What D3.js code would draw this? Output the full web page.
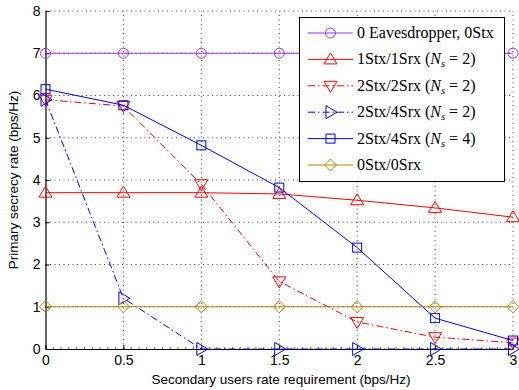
<!DOCTYPE html>
<html><head><meta charset="utf-8">
<script src="https://cdn.jsdelivr.net/npm/d3@7"></script>
<style>body{margin:0;background:#fff}</style>
</head><body><svg id="c" width="519" height="390"></svg>
<script>
const xVals = [0, 0.5, 1, 1.5, 2, 2.5, 3];
const xTicks = [0, 0.5, 1, 1.5, 2, 2.5, 3];
const xTickLabels = ["0", "0.5", "1", "1.5", "2", "2.5", "3"];
const yTicks = [0, 1, 2, 3, 4, 5, 6, 7, 8];
const eaves0 = [7, 7, 7, 7, 7, 7, 7];
const s1r1Ns2 = [3.7, 3.7, 3.7, 3.67, 3.52, 3.34, 3.12];
const s2r2Ns2 = [5.9, 5.75, 3.9, 1.6, 0.64, 0.28, 0.15];
const s2r4Ns2 = [5.9, 1.2, 0, 0, 0, 0, 0];
const s2r4Ns4 = [6.15, 5.77, 4.82, 3.82, 2.4, 0.73, 0.2];
const s0r0 = [1, 1, 1, 1, 1, 1, 1];
const seriesNames = ["0 Eavesdropper, 0Stx", "1Stx/1Srx (Ns = 2)", "2Stx/2Srx (Ns = 2)", "2Stx/4Srx (Ns = 2)", "2Stx/4Srx (Ns = 4)", "0Stx/0Srx"];

const series = [
  {name: seriesNames[0], vals: eaves0, color: "#9933ff", marker: "circle", dash: null, ns: null, pre: "0 Eavesdropper, 0Stx"},
  {name: seriesNames[1], vals: s1r1Ns2, color: "#ff0000", marker: "up", dash: null, ns: "2", pre: "1Stx/1Srx"},
  {name: seriesNames[2], vals: s2r2Ns2, color: "#ff0000", marker: "down", dash: "7,3,1.5,3", ns: "2", pre: "2Stx/2Srx"},
  {name: seriesNames[3], vals: s2r4Ns2, color: "#0000ff", marker: "right", dash: "7,3,1.5,3", ns: "2", pre: "2Stx/4Srx"},
  {name: seriesNames[4], vals: s2r4Ns4, color: "#0000ff", marker: "square", dash: null, ns: "4", pre: "2Stx/4Srx"},
  {name: seriesNames[5], vals: s0r0, color: "#bf8000", marker: "diamond", dash: null, ns: null, pre: "0Stx/0Srx"}
];

const svg = d3.select("#c");
const L = 45.5, R = 513, T = 11, B = 349;
const x = d3.scaleLinear().domain([0, 3]).range([L, R]);
const y = d3.scaleLinear().domain([0, 8]).range([B, T]);

// grid
const g = svg.append("g");
g.selectAll(".gx").data(xTicks.slice(1)).enter().append("line")
  .attr("x1", d => x(d)).attr("x2", d => x(d)).attr("y1", B).attr("y2", T)
  .attr("stroke", "#444").attr("stroke-width", 1).attr("stroke-dasharray", "1,3.5");
g.selectAll(".gy").data(yTicks.slice(1)).enter().append("line")
  .attr("y1", d => y(d)).attr("y2", d => y(d)).attr("x1", L).attr("x2", R)
  .attr("stroke", "#444").attr("stroke-width", 1).attr("stroke-dasharray", "1,3.5");

// axes
const xAxis = d3.axisBottom(x).tickValues(xTicks).tickFormat((d, i) => xTickLabels[i]).tickSizeInner(-4).tickSizeOuter(0).tickPadding(6);
const yAxis = d3.axisLeft(y).tickValues(yTicks).tickSizeInner(-4).tickSizeOuter(0).tickPadding(5);
const ax = svg.append("g").attr("transform", `translate(0,${B})`).call(xAxis);
const ay = svg.append("g").attr("transform", `translate(${L},0)`).call(yAxis);
[ax, ay].forEach(a => {
  a.select(".domain").attr("stroke", "#000").attr("stroke-width", 1.2);
  a.selectAll(".tick line").attr("stroke", "#000");
  a.selectAll("text").attr("font-family", "Liberation Sans, Arial, sans-serif").attr("font-size", 14).attr("fill", "#000");
});

// minor x ticks
const minor = d3.range(0, 3.001, 0.05);
svg.append("g").selectAll("line").data(minor).enter().append("line")
  .attr("x1", d => x(d)).attr("x2", d => x(d)).attr("y1", B).attr("y2", B - 2)
  .attr("stroke", "#000").attr("stroke-width", 0.6);

// titles
svg.append("text").attr("x", 281).attr("y", 384).attr("text-anchor", "middle")
  .attr("font-family", "Liberation Sans, Arial, sans-serif").attr("font-size", 13.5)
  .text("Secondary users rate requirement (bps/Hz)");
svg.append("text").attr("transform", "translate(18,180) rotate(-90)").attr("text-anchor", "middle")
  .attr("font-family", "Liberation Sans, Arial, sans-serif").attr("font-size", 13.5)
  .text("Primary secrecy rate (bps/Hz)");

function drawMarker(sel, type, cx, cy, color) {
  const s = 5.5;
  let el;
  if (type === "circle") el = sel.append("circle").attr("cx", cx).attr("cy", cy).attr("r", 5);
  else if (type === "square") el = sel.append("rect").attr("x", cx - 4.5).attr("y", cy - 4.5).attr("width", 9).attr("height", 9);
  else {
    let pts;
    if (type === "up") pts = [[0, -s - 1], [s + 1, s - 1], [-s - 1, s - 1]];
    if (type === "down") pts = [[0, s + 1], [s + 1, -s + 1], [-s - 1, -s + 1]];
    if (type === "right") pts = [[s + 1, 0], [-s + 1, -s - 1], [-s + 1, s + 1]];
    if (type === "diamond") pts = [[0, -s - 0.5], [s + 0.5, 0], [0, s + 0.5], [-s - 0.5, 0]];
    el = sel.append("polygon").attr("points", pts.map(p => [cx + p[0], cy + p[1]].join(",")).join(" "));
  }
  el.attr("fill", "none").attr("stroke", color).attr("stroke-width", 1);
}

const line = d3.line().x((d, i) => x(xVals[i])).y(d => y(d));
const plot = svg.append("g");
series.forEach(s => {
  plot.append("path").attr("d", line(s.vals)).attr("fill", "none")
    .attr("stroke", s.color).attr("stroke-width", 1)
    .attr("stroke-dasharray", s.dash);
  s.vals.forEach((v, i) => drawMarker(plot, s.marker, x(xVals[i]), y(v), s.color));
});

// legend
const lg = svg.append("g");
lg.append("rect").attr("x", 299.5).attr("y", 17.5).attr("width", 205).attr("height", 164)
  .attr("fill", "#fff").attr("stroke", "#000").attr("stroke-width", 1);
series.forEach((s, i) => {
  const yy = 33 + i * 26.4;
  lg.append("line").attr("x1", 308).attr("x2", 353).attr("y1", yy).attr("y2", yy)
    .attr("stroke", s.color).attr("stroke-width", 1).attr("stroke-dasharray", s.dash);
  drawMarker(lg, s.marker, 330.5, yy, s.color);
  const t = lg.append("text").attr("x", 357).attr("y", yy + 5)
    .attr("font-family", "Liberation Serif, Times New Roman, serif").attr("font-size", 16);
  t.append("tspan").text(s.pre);
  if (s.ns) {
    t.append("tspan").text(" (");
    t.append("tspan").attr("font-style", "italic").text("N");
    t.append("tspan").attr("font-style", "italic").attr("font-size", 10.5).attr("dy", 3).text("s");
    t.append("tspan").attr("dy", -3).text(" = " + s.ns + ")");
  }
});
</script></body></html>
